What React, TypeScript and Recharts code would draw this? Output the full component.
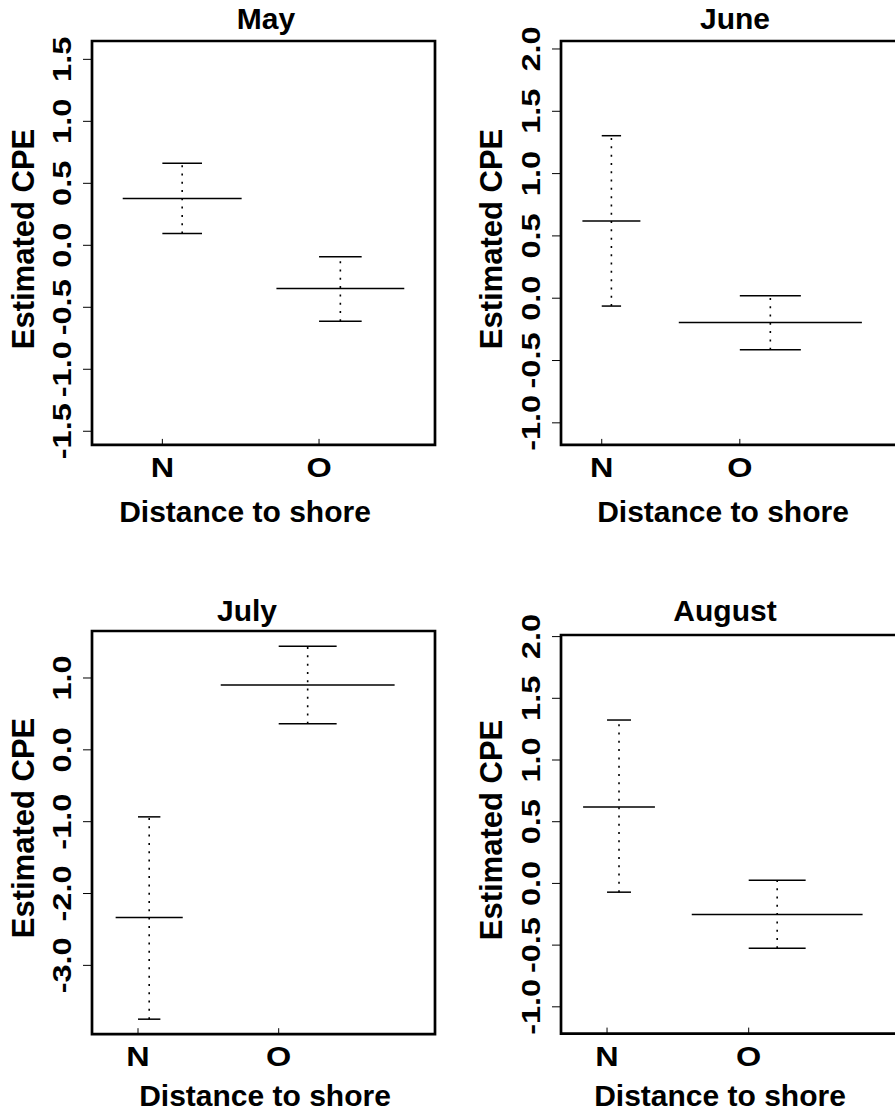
import React from "react";
import {
  ComposedChart,
  ReferenceArea,
  ReferenceLine,
  Scatter,
  XAxis,
  YAxis,
} from "recharts";

// --- data ---
const months = ["May", "June", "July", "August"];
const groups = ["N", "O"];
const meanCPE = [
  [0.377, -0.348],
  [0.62, -0.194],
  [-2.335, 0.902],
  [0.62, -0.252],
];
const lowerCPE = [
  [0.095, -0.613],
  [-0.063, -0.413],
  [-3.749, 0.363],
  [-0.071, -0.526],
];
const upperCPE = [
  [0.662, -0.092],
  [1.304, 0.02],
  [-0.933, 1.442],
  [1.324, 0.026],
];
const yTicks = [
  [-1.5, -1, -0.5, 0, 0.5, 1, 1.5],
  [-1, -0.5, 0, 0.5, 1, 1.5, 2],
  [-3, -2, -1, 0, 1],
  [-1, -0.5, 0, 0.5, 1, 1.5, 2],
];

const FONT = '"Liberation Sans", Arial, Helvetica, sans-serif';
const YW = 90;
const MT = 40;
const MR = 10;
const XH = 60;

// plot boxes in page px, domains and box widths (x units) per panel
const layout = [
  {
    plot: { x: 92, y: 40.7, w: 343, h: 403.9 },
    xDomain: [0.551, 2.74],
    yDomain: [-1.61, 1.648],
    capW: [0.253, 0.272],
    title: { x: 266, y: 19 },
    xlab: { x: 245, y: 512 },
    ylab: { x: 22.5 },
  },
  {
    plot: { x: 561, y: 40.7, w: 339, h: 403.9 },
    xDomain: [0.705, 3.16],
    yDomain: [-1.177, 2.064],
    capW: [0.14, 0.442],
    title: { x: 735, y: 19 },
    xlab: { x: 723, y: 512 },
    ylab: { x: 491 },
  },
  {
    plot: { x: 92, y: 630.5, w: 343, h: 403.2 },
    xDomain: [0.673, 3.111],
    yDomain: [-3.958, 1.654],
    capW: [0.159, 0.412],
    title: { x: 247, y: 611 },
    xlab: { x: 265, y: 1096 },
    ylab: { x: 22.5 },
  },
  {
    plot: { x: 561, y: 635.1, w: 339, h: 398.6 },
    xDomain: [0.675, 3.068],
    yDomain: [-1.217, 2.013],
    capW: [0.169, 0.402],
    title: { x: 725, y: 611 },
    xlab: { x: 720, y: 1096 },
    ylab: { x: 491 },
  },
];

const textStyle: React.CSSProperties = {
  position: "absolute",
  transform: "translate(-50%, -50%)",
  whiteSpace: "nowrap",
  fontFamily: FONT,
  fontWeight: "bold",
  fontSize: 30,
  lineHeight: 1,
  color: "#000",
};

function YTick(props: any) {
  const { x, y, payload } = props;
  const cx = x - 21;
  return (
    <text
      x={0}
      y={0}
      transform={`translate(${cx}, ${y}) rotate(-90) scale(1.25, 1)`}
      textAnchor="middle"
      dominantBaseline="central"
      fontSize={26}
      fontWeight="bold"
      fontFamily={FONT}
      fill="#000"
    >
      {Number(payload.value).toFixed(1)}
    </text>
  );
}

function XTick(props: any) {
  const { x, y, payload } = props;
  return (
    <text
      x={0}
      y={0}
      transform={`translate(${x}, ${y + 28.5}) scale(1.2, 1)`}
      textAnchor="middle"
      dominantBaseline="central"
      fontSize={27}
      fontWeight="bold"
      fontFamily={FONT}
      fill="#000"
    >
      {groups[payload.value - 1]}
    </text>
  );
}

function Panel({ i }: { i: number }) {
  const p = layout[i];
  const width = p.plot.w + YW + MR;
  const height = p.plot.h + MT + XH;
  const rows = groups.map((g, j) => ({
    group: g,
    pos: j + 1,
    mean: meanCPE[i][j],
    lo: lowerCPE[i][j],
    hi: upperCPE[i][j],
    w: p.capW[j],
  }));

  return (
    <div style={{ position: "absolute", left: p.plot.x - YW, top: p.plot.y - MT }}>
      <ComposedChart
        width={width}
        height={height}
        data={rows}
        margin={{ top: MT, right: MR, bottom: 0, left: 0 }}
      >
        <XAxis
          type="number"
          dataKey="pos"
          domain={p.xDomain}
          ticks={[1, 2]}
          allowDataOverflow
          interval={0}
          height={XH}
          axisLine={false}
          tickSize={-6}
          tickMargin={0}
          tickLine={{ stroke: "#000", strokeWidth: 1 }}
          tick={<XTick />}
        />
        <YAxis
          type="number"
          dataKey="mean"
          domain={p.yDomain}
          ticks={yTicks[i]}
          allowDataOverflow
          interval={0}
          width={YW}
          axisLine={false}
          tickSize={9}
          tickMargin={0}
          tickLine={{ stroke: "#000", strokeWidth: 1 }}
          tick={<YTick />}
        />
        <ReferenceArea
          x1={p.xDomain[0]}
          x2={p.xDomain[1]}
          y1={p.yDomain[0]}
          y2={p.yDomain[1]}
          fill="none"
          stroke="#000"
          strokeWidth={2.7}
          ifOverflow="visible"
        />
        {rows.map((r) => [
          <ReferenceLine
            key={`w${r.group}`}
            segment={[
              { x: r.pos + r.w / 2, y: r.lo },
              { x: r.pos + r.w / 2, y: r.hi },
            ]}
            stroke="#000"
            strokeWidth={1.6}
            strokeDasharray="2 6.3"
          />,
          <ReferenceLine
            key={`u${r.group}`}
            segment={[
              { x: r.pos, y: r.hi },
              { x: r.pos + r.w, y: r.hi },
            ]}
            stroke="#000"
            strokeWidth={1.5}
          />,
          <ReferenceLine
            key={`l${r.group}`}
            segment={[
              { x: r.pos, y: r.lo },
              { x: r.pos + r.w, y: r.lo },
            ]}
            stroke="#000"
            strokeWidth={1.5}
          />,
          <ReferenceLine
            key={`m${r.group}`}
            segment={[
              { x: r.pos - r.w, y: r.mean },
              { x: r.pos + 2 * r.w, y: r.mean },
            ]}
            stroke="#000"
            strokeWidth={1.5}
          />,
        ])}
        <Scatter dataKey="mean" shape={() => <g />} isAnimationActive={false} />
      </ComposedChart>
    </div>
  );
}

export default function App() {
  return (
    <div
      style={{
        position: "absolute",
        left: 0,
        top: 0,
        width: 895,
        height: 1113,
        overflow: "hidden",
        background: "#fff",
      }}
    >
      {months.map((m, i) => {
        const p = layout[i];
        return (
          <React.Fragment key={m}>
            <Panel i={i} />
            <div style={{ ...textStyle, left: p.title.x, top: p.title.y }}>{m}</div>
            <div style={{ ...textStyle, left: p.xlab.x, top: p.xlab.y }}>
              Distance to shore
            </div>
            <div
              style={{
                ...textStyle,
                fontSize: 31,
                left: p.ylab.x,
                top: p.plot.y + p.plot.h / 2 - 4,
                transform: "translate(-50%, -50%) rotate(-90deg)",
              }}
            >
              Estimated CPE
            </div>
          </React.Fragment>
        );
      })}
    </div>
  );
}
